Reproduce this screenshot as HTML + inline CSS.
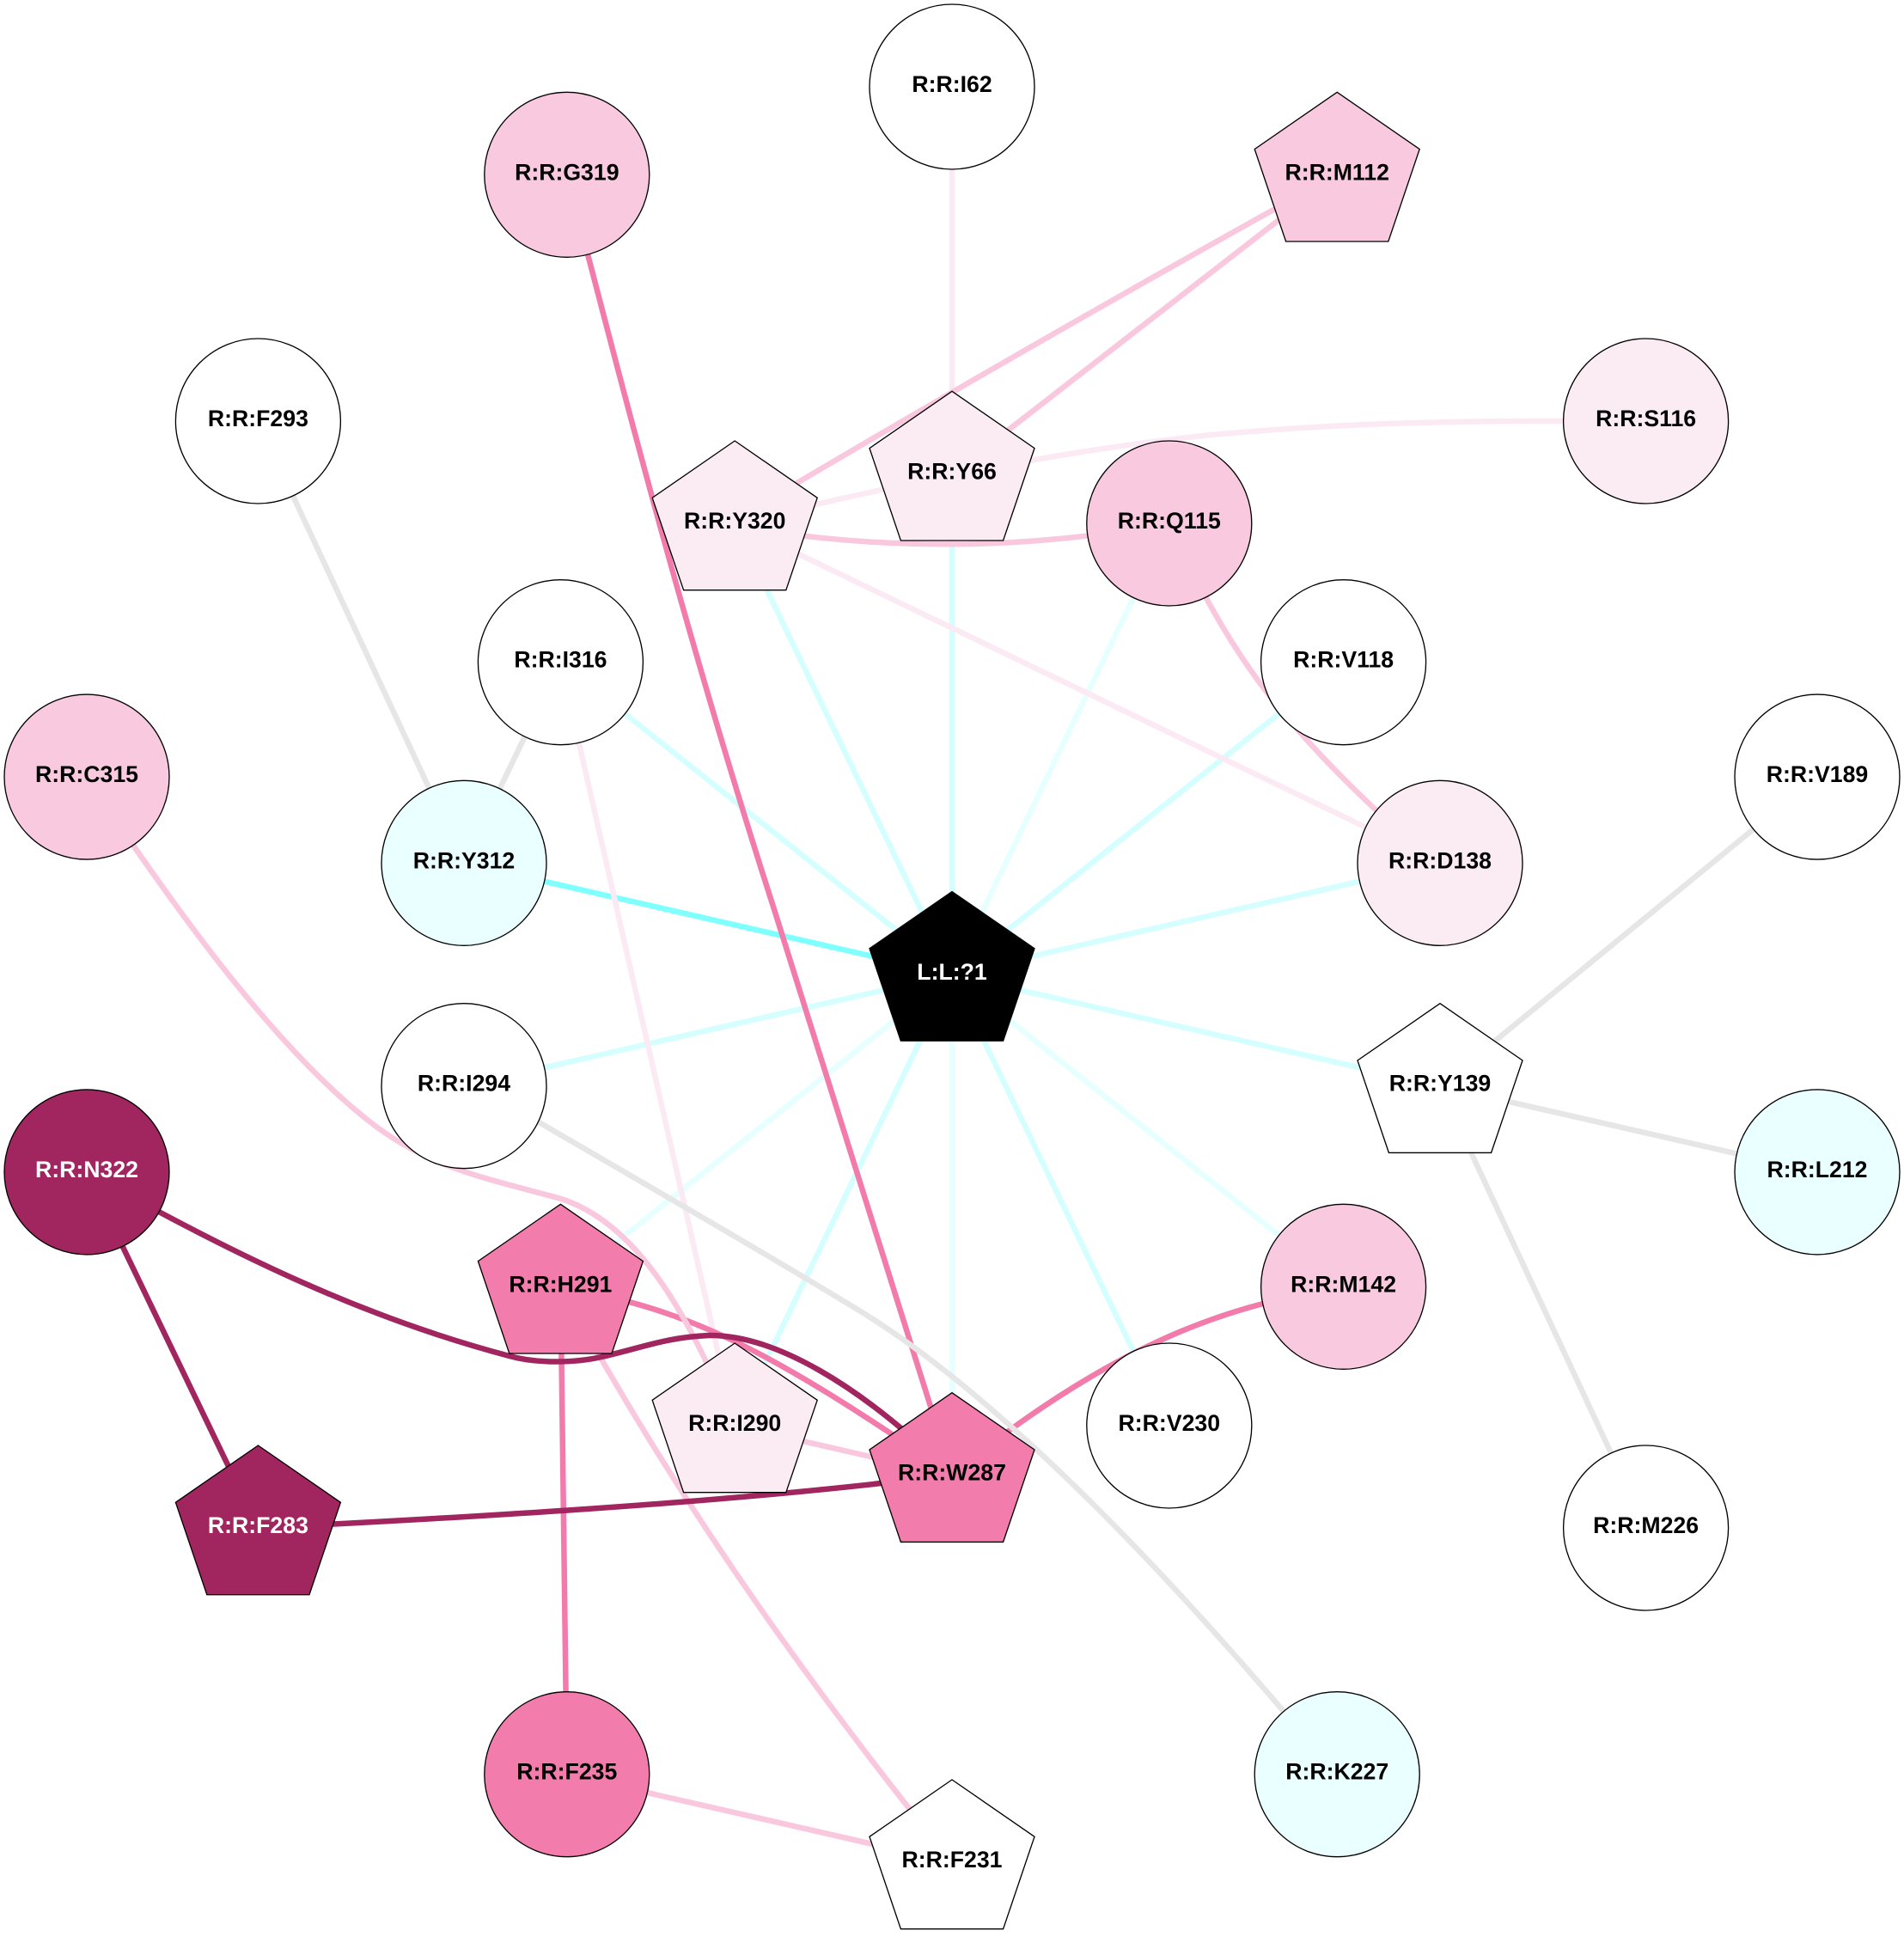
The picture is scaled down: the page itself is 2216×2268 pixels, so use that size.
<!DOCTYPE html>
<html>
<head>
<meta charset="utf-8">
<style>
html,body{margin:0;padding:0;background:#fff}
svg{display:block}
text{font-family:"Liberation Sans",Arial,sans-serif;font-weight:bold;font-size:26.67px;text-anchor:middle;fill:#000}
text.w{fill:#fff}
.e path,.e line{fill:none;stroke-width:6.5}
circle,polygon{stroke:#000;stroke-width:1.33}
</style>
</head>
<body>
<svg width="2216" height="2268" viewBox="0 0 2216 2268" xmlns="http://www.w3.org/2000/svg">
<rect width="2216" height="2268" fill="#fff"/>
<g class="e">
<g stroke="#D5FFFF">
<line x1="1108" y1="1134" x2="1108" y2="551.3"/>
<line x1="1108" y1="1134" x2="1563.6" y2="770.7"/>
<line x1="1108" y1="1134" x2="1676" y2="1004.3"/>
<line x1="1108" y1="1134" x2="1676" y2="1263.7"/>
<line x1="1108" y1="1134" x2="1360.8" y2="1659"/>
<line x1="1108" y1="1134" x2="855.2" y2="1659"/>
<line x1="1108" y1="1134" x2="540" y2="1263.7"/>
<line x1="1108" y1="1134" x2="652.4" y2="770.7"/>
<line x1="1108" y1="1134" x2="855.2" y2="609"/>
</g>
<g stroke="#E6FFFF">
<line x1="1108" y1="1134" x2="1360.8" y2="609"/>
<line x1="1108" y1="1134" x2="1563.6" y2="1497.3"/>
<line x1="1108" y1="1134" x2="1108" y2="1716.7"/>
<line x1="1108" y1="1134" x2="652.4" y2="1497.3"/>
</g>
<line x1="1108" y1="1134" x2="540" y2="1004.3" stroke="#80FFFF"/>
<g stroke="#FBEAF3">
<line x1="1108" y1="101" x2="1108" y2="551.3"/>
<line x1="652.4" y1="770.7" x2="855.2" y2="1659"/>
<line x1="855.2" y1="609" x2="1676" y2="1004.3"/>
<path d="M855 609 C1000 575 1190 530 1400 507 C1600 488 1760 490 1916 490"/>
</g>
<g stroke="#F27BAB">
<path d="M660 203 C725 455 800 745 900 1055 L1108 1716"/>
<line x1="652.4" y1="1497.3" x2="659.8" y2="2064.7"/>
<path d="M652 1497 C800 1525 880 1560 1108 1716"/>
<path d="M1564 1497 C1470 1515 1330 1535 1108 1716"/>
</g>
<g stroke="#F9C8DE">
<path d="M855 605 Q1200 400 1556 203"/>
<line x1="1108" y1="551.3" x2="1556.2" y2="203.3"/>
<path d="M855 612 Q1108 656 1361 609"/>
<path d="M1361 609 C1400 695 1440 765 1490 825 C1535 880 1590 935 1676 1010"/>
<path d="M101 904 C195 1045 315 1215 430 1305 C500 1360 570 1372 653 1395 C740 1423 800 1525 855 1659"/>
<path d="M652 1497 C740 1655 860 1860 1108 2167"/>
<line x1="659.8" y1="2064.7" x2="1108" y2="2167"/>
<line x1="855.2" y1="1659" x2="1108" y2="1716.7"/>
</g>
<g stroke="#E6E6E6">
<line x1="300.4" y1="490" x2="540" y2="1004.3"/>
<line x1="652.4" y1="770.7" x2="540" y2="1004.3"/>
<line x1="1676" y1="1263.7" x2="2115" y2="904.1"/>
<line x1="1676" y1="1263.7" x2="2115" y2="1363.9"/>
<line x1="1676" y1="1263.7" x2="1915.6" y2="1778"/>
<path d="M540 1255 C690 1343 860 1440 1000 1525 C1180 1635 1390 1865 1556 2065"/>
</g>
<g stroke="#A1255F">
<line x1="101" y1="1363.9" x2="300.4" y2="1778"/>
<path d="M101 1364 C280 1465 430 1535 593 1578 C625 1587 670 1586 700 1579 C745 1569 775 1556 825 1554 C900 1553 1000 1610 1108 1716"/>
<path d="M301 1778 C500 1768 850 1750 1108 1716"/>
</g>
</g>

<circle cx="1108" cy="101" r="96" fill="#fff"/><text x="1108" y="107">R:R:I62</text>
<circle cx="659.8" cy="203.3" r="96" fill="#F9C9DF"/><text x="659.8" y="209.3">R:R:G319</text>
<polygon transform="translate(1556.2 203.3)" points="0,-96 96,-29.7 59.6,77.7 -59.6,77.7 -96,-29.7" fill="#F9C9DF"/><text x="1556.2" y="209.3">R:R:M112</text>
<circle cx="300.4" cy="490" r="96" fill="#fff"/><text x="300.4" y="496">R:R:F293</text>
<circle cx="1915.6" cy="490" r="96" fill="#FBECF4"/><text x="1915.6" y="496">R:R:S116</text>
<polygon transform="translate(855.2 609)" points="0,-96 96,-29.7 59.6,77.7 -59.6,77.7 -96,-29.7" fill="#FBECF4"/><text x="855.2" y="615">R:R:Y320</text>
<polygon transform="translate(1108 551.3)" points="0,-96 96,-29.7 59.6,77.7 -59.6,77.7 -96,-29.7" fill="#FBECF4"/><text x="1108" y="557.3">R:R:Y66</text>
<circle cx="1360.8" cy="609" r="96" fill="#F9C9DF"/><text x="1360.8" y="615">R:R:Q115</text>
<circle cx="652.4" cy="770.7" r="96" fill="#fff"/><text x="652.4" y="776.7">R:R:I316</text>
<circle cx="1563.6" cy="770.7" r="96" fill="#fff"/><text x="1563.6" y="776.7">R:R:V118</text>
<circle cx="101" cy="904.1" r="96" fill="#F9C9DF"/><text x="101" y="910.1">R:R:C315</text>
<circle cx="2115" cy="904.1" r="96" fill="#fff"/><text x="2115" y="910.1">R:R:V189</text>
<circle cx="540" cy="1004.3" r="96" fill="#EAFFFF"/><text x="540" y="1010.3">R:R:Y312</text>
<circle cx="1676" cy="1004.3" r="96" fill="#FBECF4"/><text x="1676" y="1010.3">R:R:D138</text>
<polygon transform="translate(1108 1133.5)" points="0,-96 96,-29.7 59.6,77.7 -59.6,77.7 -96,-29.7" fill="#000"/><text class="w" x="1108" y="1140">L:L:?1</text>
<circle cx="540" cy="1263.7" r="96" fill="#fff"/><text x="540" y="1269.7">R:R:I294</text>
<polygon transform="translate(1676 1263.7)" points="0,-96 96,-29.7 59.6,77.7 -59.6,77.7 -96,-29.7" fill="#fff"/><text x="1676" y="1269.7">R:R:Y139</text>
<circle cx="101" cy="1363.9" r="96" fill="#A1255F"/><text class="w" x="101" y="1369.9">R:R:N322</text>
<circle cx="2115" cy="1363.9" r="96" fill="#EAFFFF"/><text x="2115" y="1369.9">R:R:L212</text>
<polygon transform="translate(652.4 1497.3)" points="0,-96 96,-29.7 59.6,77.7 -59.6,77.7 -96,-29.7" fill="#F27CAC"/><text x="652.4" y="1503.3">R:R:H291</text>
<circle cx="1563.6" cy="1497.3" r="96" fill="#F9C9DF"/><text x="1563.6" y="1503.3">R:R:M142</text>
<polygon transform="translate(855.2 1659)" points="0,-96 96,-29.7 59.6,77.7 -59.6,77.7 -96,-29.7" fill="#FBECF4"/><text x="855.2" y="1665">R:R:I290</text>
<circle cx="1360.8" cy="1659" r="96" fill="#fff"/><text x="1360.8" y="1665">R:R:V230</text>
<polygon transform="translate(300.4 1778)" points="0,-96 96,-29.7 59.6,77.7 -59.6,77.7 -96,-29.7" fill="#A1255F"/><text class="w" x="300.4" y="1784">R:R:F283</text>
<polygon transform="translate(1108 1716.7)" points="0,-96 96,-29.7 59.6,77.7 -59.6,77.7 -96,-29.7" fill="#F27CAC"/><text x="1108" y="1722.7">R:R:W287</text>
<circle cx="1915.6" cy="1778" r="96" fill="#fff"/><text x="1915.6" y="1784">R:R:M226</text>
<circle cx="659.8" cy="2064.7" r="96" fill="#F27CAC"/><text x="659.8" y="2070.7">R:R:F235</text>
<circle cx="1556.2" cy="2064.7" r="96" fill="#EAFFFF"/><text x="1556.2" y="2070.7">R:R:K227</text>
<polygon transform="translate(1108 2167)" points="0,-96 96,-29.7 59.6,77.7 -59.6,77.7 -96,-29.7" fill="#fff"/><text x="1108" y="2173">R:R:F231</text>
</svg>
</body>
</html>
